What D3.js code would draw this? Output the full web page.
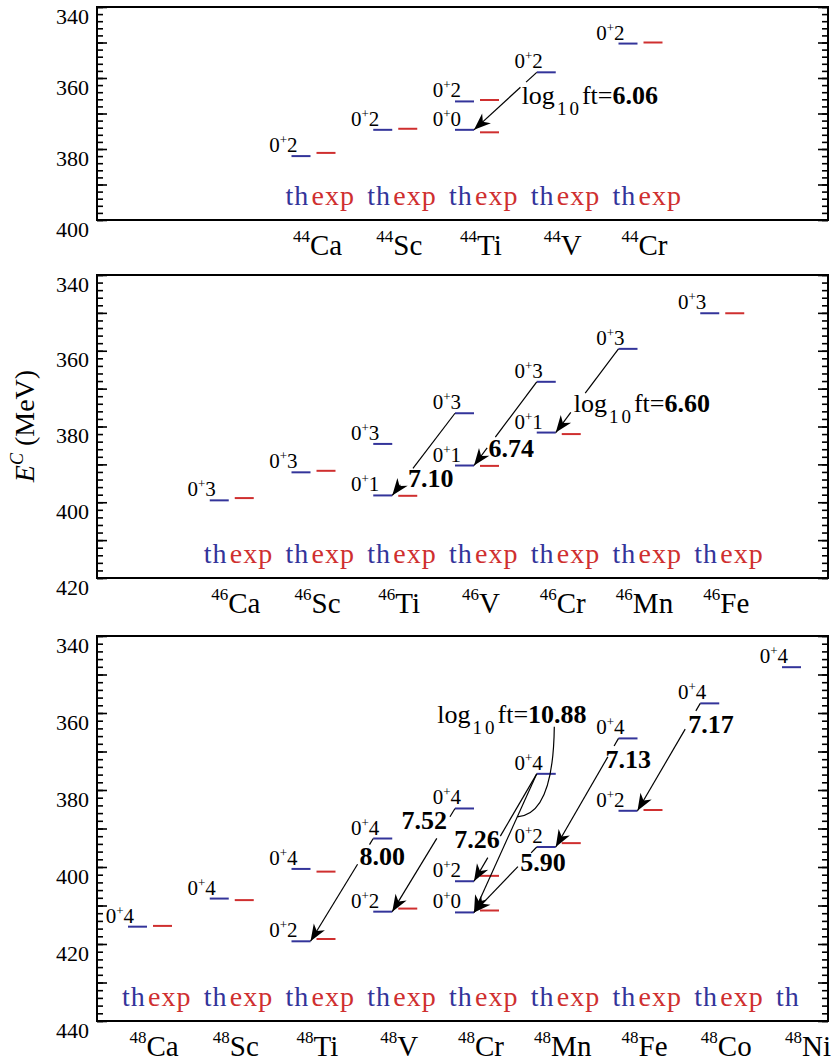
<!DOCTYPE html>
<html>
<head>
<meta charset="utf-8">
<script src="https://cdn.jsdelivr.net/npm/d3@7"></script>
<style>
body { margin: 0; background: #fff; }
</style>
</head>
<body>
<div id="chart"></div>
<script>
'use strict';
// chart data
var elements = ['Ca', 'Sc', 'Ti', 'V', 'Cr', 'Mn', 'Fe', 'Co', 'Ni'];
var protonNumbers = [20, 21, 22, 23, 24, 25, 26, 27, 28];
var massNumbers = [44, 46, 48];
var energyRanges = [[340, 400], [340, 420], [340, 440]];

// nuclei shown in each panel, and those with a "th exp" legend
var nuclei44 = ['Ca', 'Sc', 'Ti', 'V', 'Cr'];
var nuclei46 = ['Ca', 'Sc', 'Ti', 'V', 'Cr', 'Mn', 'Fe'];
var nuclei48 = ['Ca', 'Sc', 'Ti', 'V', 'Cr', 'Mn', 'Fe', 'Co', 'Ni'];
var withExp44 = ['Ca', 'Sc', 'Ti', 'V', 'Cr'];
var withExp46 = ['Ca', 'Sc', 'Ti', 'V', 'Cr', 'Mn', 'Fe'];
var withExp48 = ['Ca', 'Sc', 'Ti', 'V', 'Cr', 'Mn', 'Fe', 'Co'];

// 0+ levels: element, isospin T, E^C theory, E^C experiment (MeV)
var levels44 = [
    ['Ca', 2, 382.0, 381.1],
    ['Sc', 2, 374.6, 374.3],
    ['Ti', 2, 366.6, 366.2],
    ['Ti', 0, 374.6, 375.3],
    ['V', 2, 358.4, null],
    ['Cr', 2, 350.3, 350.0]
];
var levels46 = [
    ['Ca', 3, 399.5, 398.9],
    ['Sc', 3, 392.1, 391.7],
    ['Ti', 3, 384.6, null],
    ['Ti', 1, 398.2, 398.3],
    ['V', 3, 376.5, null],
    ['V', 1, 390.3, 390.4],
    ['Cr', 3, 368.2, null],
    ['Cr', 1, 381.6, 382.0],
    ['Mn', 3, 359.5, null],
    ['Fe', 3, 350.1, 350.1]
];
var levels48 = [
    ['Ca', 4, 415.5, 415.3],
    ['Sc', 4, 408.2, 408.6],
    ['Ti', 4, 400.5, 401.2],
    ['Ti', 2, 419.3, 418.7],
    ['V', 4, 392.6, null],
    ['V', 2, 411.6, 410.8],
    ['Cr', 4, 384.8, null],
    ['Cr', 2, 403.7, 402.3],
    ['Cr', 0, 411.8, 411.3],
    ['Mn', 4, 375.8, null],
    ['Mn', 2, 394.8, 393.8],
    ['Fe', 4, 366.6, null],
    ['Fe', 2, 385.4, 385.2],
    ['Co', 4, 357.5, null],
    ['Ni', 4, 348.1, null]
];

// beta transitions: parent element, T, daughter element, T, log10 ft
var transitions44 = [
    ['V', 2, 'Ti', 0, '6.06']
];
var transitions46 = [
    ['V', 3, 'Ti', 1, '7.10'],
    ['Cr', 3, 'V', 1, '6.74'],
    ['Mn', 3, 'Cr', 1, '6.60']
];
var transitions48 = [
    ['V', 4, 'Ti', 2, '8.00'],
    ['Cr', 4, 'V', 2, '7.52'],
    ['Mn', 4, 'Cr', 2, '7.26'],
    ['Mn', 4, 'Cr', 0, '10.88'],
    ['Mn', 2, 'Cr', 0, '5.90'],
    ['Fe', 4, 'Mn', 2, '7.13'],
    ['Co', 4, 'Fe', 2, '7.17']
];

var panelNuclei = [nuclei44, nuclei46, nuclei48];
var panelWithExp = [withExp44, withExp46, withExp48];
var panelLevels = [levels44, levels46, levels48];
var panelTransitions = [transitions44, transitions46, transitions48];

// label placement along each arrow (layout only)
var arrowLayout = [
    [{gap: [0.17, 0.26], at: 0.40, dx: 10, dy: 9, anchor: 'start', prefix: true}],
    [
        {gap: [0.67, 0.87], at: 0.78, dx: 2, dy: 10, anchor: 'start'},
        {gap: [0.66, 0.79], at: 0.80, dx: 2, dy: 8, anchor: 'start'},
        {gap: [0.53, 0.76], at: 0.65, dx: -4, dy: 9, anchor: 'start', prefix: true}
    ],
    [
        {gap: [0.06, 0.25], at: 0.17, dx: -3, dy: 9, anchor: 'start'},
        {gap: [0.08, 0.29], at: 0.11, dx: -1, dy: 9, anchor: 'end'},
        {gap: [0.58, 0.78], at: 0.62, dx: 2, dy: 8, anchor: 'end'},
        {gap: null, at: 0.31, dx: -80, dy: -94, anchor: 'start', prefix: true, leader: true},
        {gap: [0.09, 0.30], at: 0.23, dx: -2, dy: 9, anchor: 'start'},
        {gap: [0.07, 0.17], at: 0.19, dx: -1, dy: 9, anchor: 'start'},
        {gap: [0.07, 0.24], at: 0.19, dx: 0, dy: 9, anchor: 'start'}
    ]
];

var width = 832, height = 1062;
var left = 97, right = 828;
var frames = [{top: 7, bottom: 220}, {top: 275, bottom: 578}, {top: 636, bottom: 1021}];
var blue = '#33349a', red = '#cf2f2f';

var svg = d3.select('#chart').append('svg')
    .attr('width', width)
    .attr('height', height)
    .style('display', 'block')
    .style('font-family', "'Liberation Serif', serif");

svg.append('defs').append('marker')
    .attr('id', 'head')
    .attr('viewBox', '-18 -8 19 16')
    .attr('refX', 0).attr('refY', 0)
    .attr('markerWidth', 19).attr('markerHeight', 16)
    .attr('markerUnits', 'userSpaceOnUse')
    .attr('orient', 'auto')
    .append('path')
    .attr('d', 'M0,0 L-17,-6.5 L-12,0 L-17,6.5 Z')
    .attr('fill', '#000');

// columns follow N - Z, so the same element lines up differently in each panel
var x = d3.scaleLinear().domain([8, -8]).range([150, 804]);

function column(A, el) {
    var Z = protonNumbers[elements.indexOf(el)];
    return x(A - 2 * Z);
}

massNumbers.forEach(function (A, p) {
    var f = frames[p];
    var y = d3.scaleLinear().domain(energyRanges[p]).range([f.top, f.bottom]);
    var g = svg.append('g');
    var lo = energyRanges[p][0], hi = energyRanges[p][1];

    // ticks, inward on both sides
    [[d3.axisRight, left], [d3.axisLeft, right]].forEach(function (side) {
        var minor = side[0](y).tickValues(d3.range(lo, hi + 1, 2)).tickSize(6).tickFormat('');
        var major = side[0](y).tickValues(d3.range(lo, hi + 1, 10)).tickSize(10).tickFormat('');
        [minor, major].forEach(function (ax) {
            var a = g.append('g').attr('transform', 'translate(' + side[1] + ',0)').call(ax);
            a.select('.domain').remove();
            a.selectAll('line').attr('stroke', '#000').attr('stroke-width', 1.6);
        });
    });

    g.selectAll('text.ylab').data(d3.range(lo, hi + 1, 20)).enter()
        .append('text').attr('class', 'ylab')
        .attr('x', 89).attr('y', function (d) { return y(d) + 16.5; })
        .attr('text-anchor', 'end').attr('font-size', 22)
        .text(function (d) { return d; });

    g.append('rect')
        .attr('x', left).attr('y', f.top)
        .attr('width', right - left).attr('height', f.bottom - f.top)
        .attr('fill', 'none').attr('stroke', '#000').attr('stroke-width', 2);

    // nucleus names under the frame
    panelNuclei[p].forEach(function (el) {
        var c = column(A, el);
        var t = g.append('text')
            .attr('x', c + 4).attr('y', f.bottom + 35)
            .attr('text-anchor', 'middle').attr('font-size', 29);
        t.append('tspan').attr('font-size', 17).attr('dy', -13).text(A);
        t.append('tspan').attr('dy', 13).text(el);

        var lg = g.append('text').attr('y', f.bottom - 15).attr('font-size', 28).attr('letter-spacing', 1);
        lg.append('tspan').attr('x', c - 28).attr('fill', blue).text('th');
        if (panelWithExp[p].indexOf(el) >= 0) {
            lg.append('tspan').attr('x', c - 2).attr('fill', red).text('exp');
        }
    });

    // level bars and J^pi T labels
    var lv = g.selectAll('g.level').data(panelLevels[p]).enter().append('g').attr('class', 'level');
    lv.append('line')
        .attr('x1', function (d) { return column(A, d[0]) - 22; })
        .attr('x2', function (d) { return column(A, d[0]) - 3; })
        .attr('y1', function (d) { return y(d[2]); })
        .attr('y2', function (d) { return y(d[2]); })
        .attr('stroke', blue).attr('stroke-width', 2);
    lv.filter(function (d) { return d[3] !== null; }).append('line')
        .attr('x1', function (d) { return column(A, d[0]) + 3; })
        .attr('x2', function (d) { return column(A, d[0]) + 22; })
        .attr('y1', function (d) { return y(d[3]); })
        .attr('y2', function (d) { return y(d[3]); })
        .attr('stroke', red).attr('stroke-width', 2);
    var lt = lv.append('text')
        .attr('x', function (d) { return column(A, d[0]) - 16; })
        .attr('y', function (d) { return y(d[2]) - 4; })
        .attr('text-anchor', 'end').attr('font-size', 21);
    lt.append('tspan').text('0');
    lt.append('tspan').attr('font-size', 13).attr('dy', -8).text('+');
    lt.append('tspan').attr('dy', 8).text(function (d) { return d[1]; });

    // transitions
    function levelY(el, T) {
        var l = panelLevels[p].filter(function (d) { return d[0] === el && d[1] === T; })[0];
        return y(l[2]);
    }
    panelTransitions[p].forEach(function (tr, i) {
        var lay = arrowLayout[p][i];
        var s = [column(A, tr[0]) - 22, levelY(tr[0], tr[1])];
        var e = [column(A, tr[2]) - 3, levelY(tr[2], tr[3])];
        var at = function (t) { return [s[0] + t * (e[0] - s[0]), s[1] + t * (e[1] - s[1])]; };
        var segs = lay.gap ? [[s, at(lay.gap[0])], [at(lay.gap[1]), e]] : [[s, e]];
        segs.forEach(function (sg, k) {
            var ln = g.append('line')
                .attr('x1', sg[0][0]).attr('y1', sg[0][1])
                .attr('x2', sg[1][0]).attr('y2', sg[1][1])
                .attr('stroke', '#000').attr('stroke-width', 1.2);
            if (k === segs.length - 1) ln.attr('marker-end', 'url(#head)');
        });
        var pt = at(lay.at);
        if (lay.leader) {
            g.append('path')
                .attr('d', 'M' + pt[0] + ',' + pt[1] +
                    ' Q' + (pt[0] + 36) + ',' + (pt[1] - 2) + ' ' + (pt[0] + 37) + ',' + (pt[1] - 90))
                .attr('fill', 'none').attr('stroke', '#000').attr('stroke-width', 1.2);
        }
        var txt = g.append('text')
            .attr('x', pt[0] + lay.dx).attr('y', pt[1] + lay.dy)
            .attr('text-anchor', lay.anchor).attr('font-size', 26);
        if (lay.prefix) {
            txt.append('tspan').text('log');
            txt.append('tspan').attr('font-size', 19).attr('dy', 11).attr('dx', 2)
                .attr('letter-spacing', 3).text('10');
            txt.append('tspan').attr('dy', -11).text('ft=');
        }
        txt.append('tspan').attr('font-weight', 'bold').text(tr[4]);
    });
});

// y-axis title
var yt = svg.append('text')
    .attr('transform', 'translate(34,426) rotate(-90)')
    .attr('text-anchor', 'middle').attr('font-size', 28);
yt.append('tspan').attr('font-style', 'italic').text('E');
yt.append('tspan').attr('font-style', 'italic').attr('font-size', 18).attr('dy', -11).text('C');
yt.append('tspan').attr('dy', 11).text(' (MeV)');
</script>
</body>
</html>
